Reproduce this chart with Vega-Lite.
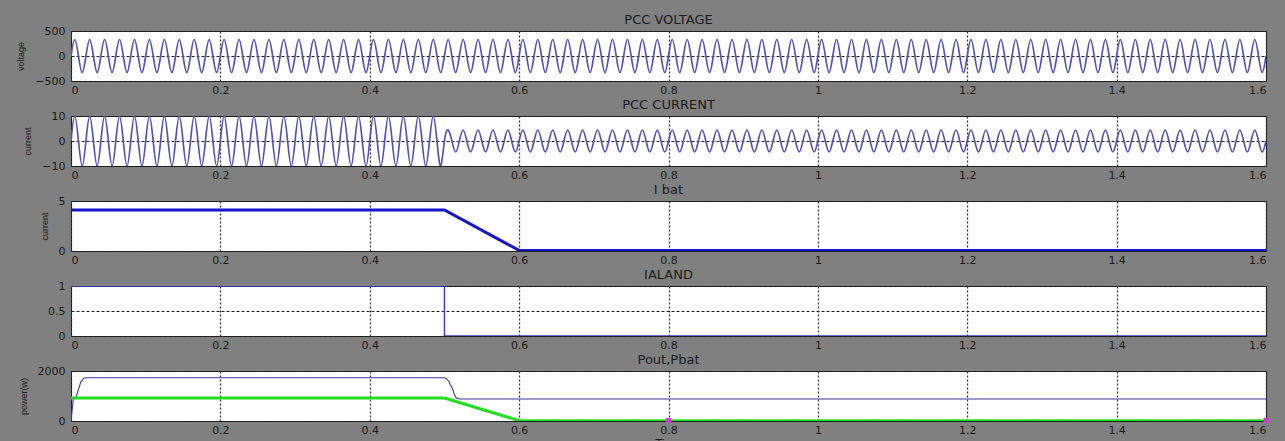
{
"$schema": "https://vega.github.io/schema/vega-lite/v6.json",
"background": "#808080",
"padding": {"left": 16, "top": 13, "right": 18, "bottom": 0},
"spacing": 35,
"bounds": "flush",
"datasets": {
"wave": [
{"t":0,"v":0,"i":0},{"t":0.005,"v":330,"i":10},{"t":0.01,"v":0,"i":0},{"t":0.015,"v":-330,"i":-10},
{"t":0.02,"v":0,"i":0},{"t":0.025,"v":330,"i":10},{"t":0.03,"v":0,"i":0},{"t":0.035,"v":-330,"i":-10},
{"t":0.04,"v":0,"i":0},{"t":0.045,"v":330,"i":10},{"t":0.05,"v":0,"i":0},{"t":0.055,"v":-330,"i":-10},
{"t":0.06,"v":0,"i":0},{"t":0.065,"v":330,"i":10},{"t":0.07,"v":0,"i":0},{"t":0.075,"v":-330,"i":-10},
{"t":0.08,"v":0,"i":0},{"t":0.085,"v":330,"i":10},{"t":0.09,"v":0,"i":0},{"t":0.095,"v":-330,"i":-10},
{"t":0.1,"v":0,"i":0},{"t":0.105,"v":330,"i":10},{"t":0.11,"v":0,"i":0},{"t":0.115,"v":-330,"i":-10},
{"t":0.12,"v":0,"i":0},{"t":0.125,"v":330,"i":10},{"t":0.13,"v":0,"i":0},{"t":0.135,"v":-330,"i":-10},
{"t":0.14,"v":0,"i":0},{"t":0.145,"v":330,"i":10},{"t":0.15,"v":0,"i":0},{"t":0.155,"v":-330,"i":-10},
{"t":0.16,"v":0,"i":0},{"t":0.165,"v":330,"i":10},{"t":0.17,"v":0,"i":0},{"t":0.175,"v":-330,"i":-10},
{"t":0.18,"v":0,"i":0},{"t":0.185,"v":330,"i":10},{"t":0.19,"v":0,"i":0},{"t":0.195,"v":-330,"i":-10},
{"t":0.2,"v":0,"i":0},{"t":0.205,"v":330,"i":10},{"t":0.21,"v":0,"i":0},{"t":0.215,"v":-330,"i":-10},
{"t":0.22,"v":0,"i":0},{"t":0.225,"v":330,"i":10},{"t":0.23,"v":0,"i":0},{"t":0.235,"v":-330,"i":-10},
{"t":0.24,"v":0,"i":0},{"t":0.245,"v":330,"i":10},{"t":0.25,"v":0,"i":0},{"t":0.255,"v":-330,"i":-10},
{"t":0.26,"v":0,"i":0},{"t":0.265,"v":330,"i":10},{"t":0.27,"v":0,"i":0},{"t":0.275,"v":-330,"i":-10},
{"t":0.28,"v":0,"i":0},{"t":0.285,"v":330,"i":10},{"t":0.29,"v":0,"i":0},{"t":0.295,"v":-330,"i":-10},
{"t":0.3,"v":0,"i":0},{"t":0.305,"v":330,"i":10},{"t":0.31,"v":0,"i":0},{"t":0.315,"v":-330,"i":-10},
{"t":0.32,"v":0,"i":0},{"t":0.325,"v":330,"i":10},{"t":0.33,"v":0,"i":0},{"t":0.335,"v":-330,"i":-10},
{"t":0.34,"v":0,"i":0},{"t":0.345,"v":330,"i":10},{"t":0.35,"v":0,"i":0},{"t":0.355,"v":-330,"i":-10},
{"t":0.36,"v":0,"i":0},{"t":0.365,"v":330,"i":10},{"t":0.37,"v":0,"i":0},{"t":0.375,"v":-330,"i":-10},
{"t":0.38,"v":0,"i":0},{"t":0.385,"v":330,"i":10},{"t":0.39,"v":0,"i":0},{"t":0.395,"v":-330,"i":-10},
{"t":0.4,"v":0,"i":0},{"t":0.405,"v":330,"i":10},{"t":0.41,"v":0,"i":0},{"t":0.415,"v":-330,"i":-10},
{"t":0.42,"v":0,"i":0},{"t":0.425,"v":330,"i":10},{"t":0.43,"v":0,"i":0},{"t":0.435,"v":-330,"i":-10},
{"t":0.44,"v":0,"i":0},{"t":0.445,"v":330,"i":10},{"t":0.45,"v":0,"i":0},{"t":0.455,"v":-330,"i":-10},
{"t":0.46,"v":0,"i":0},{"t":0.465,"v":330,"i":10},{"t":0.47,"v":0,"i":0},{"t":0.475,"v":-330,"i":-10},
{"t":0.48,"v":0,"i":0},{"t":0.485,"v":330,"i":10},{"t":0.49,"v":0,"i":0},{"t":0.495,"v":-330,"i":-10},
{"t":0.5,"v":0,"i":0},{"t":0.505,"v":330,"i":4.4},{"t":0.51,"v":0,"i":0},{"t":0.515,"v":-330,"i":-4.4},
{"t":0.52,"v":0,"i":0},{"t":0.525,"v":330,"i":4.4},{"t":0.53,"v":0,"i":0},{"t":0.535,"v":-330,"i":-4.4},
{"t":0.54,"v":0,"i":0},{"t":0.545,"v":330,"i":4.4},{"t":0.55,"v":0,"i":0},{"t":0.555,"v":-330,"i":-4.4},
{"t":0.56,"v":0,"i":0},{"t":0.565,"v":330,"i":4.4},{"t":0.57,"v":0,"i":0},{"t":0.575,"v":-330,"i":-4.4},
{"t":0.58,"v":0,"i":0},{"t":0.585,"v":330,"i":4.4},{"t":0.59,"v":0,"i":0},{"t":0.595,"v":-330,"i":-4.4},
{"t":0.6,"v":0,"i":0},{"t":0.605,"v":330,"i":4.4},{"t":0.61,"v":0,"i":0},{"t":0.615,"v":-330,"i":-4.4},
{"t":0.62,"v":0,"i":0},{"t":0.625,"v":330,"i":4.4},{"t":0.63,"v":0,"i":0},{"t":0.635,"v":-330,"i":-4.4},
{"t":0.64,"v":0,"i":0},{"t":0.645,"v":330,"i":4.4},{"t":0.65,"v":0,"i":0},{"t":0.655,"v":-330,"i":-4.4},
{"t":0.66,"v":0,"i":0},{"t":0.665,"v":330,"i":4.4},{"t":0.67,"v":0,"i":0},{"t":0.675,"v":-330,"i":-4.4},
{"t":0.68,"v":0,"i":0},{"t":0.685,"v":330,"i":4.4},{"t":0.69,"v":0,"i":0},{"t":0.695,"v":-330,"i":-4.4},
{"t":0.7,"v":0,"i":0},{"t":0.705,"v":330,"i":4.4},{"t":0.71,"v":0,"i":0},{"t":0.715,"v":-330,"i":-4.4},
{"t":0.72,"v":0,"i":0},{"t":0.725,"v":330,"i":4.4},{"t":0.73,"v":0,"i":0},{"t":0.735,"v":-330,"i":-4.4},
{"t":0.74,"v":0,"i":0},{"t":0.745,"v":330,"i":4.4},{"t":0.75,"v":0,"i":0},{"t":0.755,"v":-330,"i":-4.4},
{"t":0.76,"v":0,"i":0},{"t":0.765,"v":330,"i":4.4},{"t":0.77,"v":0,"i":0},{"t":0.775,"v":-330,"i":-4.4},
{"t":0.78,"v":0,"i":0},{"t":0.785,"v":330,"i":4.4},{"t":0.79,"v":0,"i":0},{"t":0.795,"v":-330,"i":-4.4},
{"t":0.8,"v":0,"i":0},{"t":0.805,"v":330,"i":4.4},{"t":0.81,"v":0,"i":0},{"t":0.815,"v":-330,"i":-4.4},
{"t":0.82,"v":0,"i":0},{"t":0.825,"v":330,"i":4.4},{"t":0.83,"v":0,"i":0},{"t":0.835,"v":-330,"i":-4.4},
{"t":0.84,"v":0,"i":0},{"t":0.845,"v":330,"i":4.4},{"t":0.85,"v":0,"i":0},{"t":0.855,"v":-330,"i":-4.4},
{"t":0.86,"v":0,"i":0},{"t":0.865,"v":330,"i":4.4},{"t":0.87,"v":0,"i":0},{"t":0.875,"v":-330,"i":-4.4},
{"t":0.88,"v":0,"i":0},{"t":0.885,"v":330,"i":4.4},{"t":0.89,"v":0,"i":0},{"t":0.895,"v":-330,"i":-4.4},
{"t":0.9,"v":0,"i":0},{"t":0.905,"v":330,"i":4.4},{"t":0.91,"v":0,"i":0},{"t":0.915,"v":-330,"i":-4.4},
{"t":0.92,"v":0,"i":0},{"t":0.925,"v":330,"i":4.4},{"t":0.93,"v":0,"i":0},{"t":0.935,"v":-330,"i":-4.4},
{"t":0.94,"v":0,"i":0},{"t":0.945,"v":330,"i":4.4},{"t":0.95,"v":0,"i":0},{"t":0.955,"v":-330,"i":-4.4},
{"t":0.96,"v":0,"i":0},{"t":0.965,"v":330,"i":4.4},{"t":0.97,"v":0,"i":0},{"t":0.975,"v":-330,"i":-4.4},
{"t":0.98,"v":0,"i":0},{"t":0.985,"v":330,"i":4.4},{"t":0.99,"v":0,"i":0},{"t":0.995,"v":-330,"i":-4.4},
{"t":1,"v":0,"i":0},{"t":1.005,"v":330,"i":4.4},{"t":1.01,"v":0,"i":0},{"t":1.015,"v":-330,"i":-4.4},
{"t":1.02,"v":0,"i":0},{"t":1.025,"v":330,"i":4.4},{"t":1.03,"v":0,"i":0},{"t":1.035,"v":-330,"i":-4.4},
{"t":1.04,"v":0,"i":0},{"t":1.045,"v":330,"i":4.4},{"t":1.05,"v":0,"i":0},{"t":1.055,"v":-330,"i":-4.4},
{"t":1.06,"v":0,"i":0},{"t":1.065,"v":330,"i":4.4},{"t":1.07,"v":0,"i":0},{"t":1.075,"v":-330,"i":-4.4},
{"t":1.08,"v":0,"i":0},{"t":1.085,"v":330,"i":4.4},{"t":1.09,"v":0,"i":0},{"t":1.095,"v":-330,"i":-4.4},
{"t":1.1,"v":0,"i":0},{"t":1.105,"v":330,"i":4.4},{"t":1.11,"v":0,"i":0},{"t":1.115,"v":-330,"i":-4.4},
{"t":1.12,"v":0,"i":0},{"t":1.125,"v":330,"i":4.4},{"t":1.13,"v":0,"i":0},{"t":1.135,"v":-330,"i":-4.4},
{"t":1.14,"v":0,"i":0},{"t":1.145,"v":330,"i":4.4},{"t":1.15,"v":0,"i":0},{"t":1.155,"v":-330,"i":-4.4},
{"t":1.16,"v":0,"i":0},{"t":1.165,"v":330,"i":4.4},{"t":1.17,"v":0,"i":0},{"t":1.175,"v":-330,"i":-4.4},
{"t":1.18,"v":0,"i":0},{"t":1.185,"v":330,"i":4.4},{"t":1.19,"v":0,"i":0},{"t":1.195,"v":-330,"i":-4.4},
{"t":1.2,"v":0,"i":0},{"t":1.205,"v":330,"i":4.4},{"t":1.21,"v":0,"i":0},{"t":1.215,"v":-330,"i":-4.4},
{"t":1.22,"v":0,"i":0},{"t":1.225,"v":330,"i":4.4},{"t":1.23,"v":0,"i":0},{"t":1.235,"v":-330,"i":-4.4},
{"t":1.24,"v":0,"i":0},{"t":1.245,"v":330,"i":4.4},{"t":1.25,"v":0,"i":0},{"t":1.255,"v":-330,"i":-4.4},
{"t":1.26,"v":0,"i":0},{"t":1.265,"v":330,"i":4.4},{"t":1.27,"v":0,"i":0},{"t":1.275,"v":-330,"i":-4.4},
{"t":1.28,"v":0,"i":0},{"t":1.285,"v":330,"i":4.4},{"t":1.29,"v":0,"i":0},{"t":1.295,"v":-330,"i":-4.4},
{"t":1.3,"v":0,"i":0},{"t":1.305,"v":330,"i":4.4},{"t":1.31,"v":0,"i":0},{"t":1.315,"v":-330,"i":-4.4},
{"t":1.32,"v":0,"i":0},{"t":1.325,"v":330,"i":4.4},{"t":1.33,"v":0,"i":0},{"t":1.335,"v":-330,"i":-4.4},
{"t":1.34,"v":0,"i":0},{"t":1.345,"v":330,"i":4.4},{"t":1.35,"v":0,"i":0},{"t":1.355,"v":-330,"i":-4.4},
{"t":1.36,"v":0,"i":0},{"t":1.365,"v":330,"i":4.4},{"t":1.37,"v":0,"i":0},{"t":1.375,"v":-330,"i":-4.4},
{"t":1.38,"v":0,"i":0},{"t":1.385,"v":330,"i":4.4},{"t":1.39,"v":0,"i":0},{"t":1.395,"v":-330,"i":-4.4},
{"t":1.4,"v":0,"i":0},{"t":1.405,"v":330,"i":4.4},{"t":1.41,"v":0,"i":0},{"t":1.415,"v":-330,"i":-4.4},
{"t":1.42,"v":0,"i":0},{"t":1.425,"v":330,"i":4.4},{"t":1.43,"v":0,"i":0},{"t":1.435,"v":-330,"i":-4.4},
{"t":1.44,"v":0,"i":0},{"t":1.445,"v":330,"i":4.4},{"t":1.45,"v":0,"i":0},{"t":1.455,"v":-330,"i":-4.4},
{"t":1.46,"v":0,"i":0},{"t":1.465,"v":330,"i":4.4},{"t":1.47,"v":0,"i":0},{"t":1.475,"v":-330,"i":-4.4},
{"t":1.48,"v":0,"i":0},{"t":1.485,"v":330,"i":4.4},{"t":1.49,"v":0,"i":0},{"t":1.495,"v":-330,"i":-4.4},
{"t":1.5,"v":0,"i":0},{"t":1.505,"v":330,"i":4.4},{"t":1.51,"v":0,"i":0},{"t":1.515,"v":-330,"i":-4.4},
{"t":1.52,"v":0,"i":0},{"t":1.525,"v":330,"i":4.4},{"t":1.53,"v":0,"i":0},{"t":1.535,"v":-330,"i":-4.4},
{"t":1.54,"v":0,"i":0},{"t":1.545,"v":330,"i":4.4},{"t":1.55,"v":0,"i":0},{"t":1.555,"v":-330,"i":-4.4},
{"t":1.56,"v":0,"i":0},{"t":1.565,"v":330,"i":4.4},{"t":1.57,"v":0,"i":0},{"t":1.575,"v":-330,"i":-4.4},
{"t":1.58,"v":0,"i":0},{"t":1.585,"v":330,"i":4.4},{"t":1.59,"v":0,"i":0},{"t":1.595,"v":-330,"i":-4.4},
{"t":1.6,"v":0,"i":0}
],
"ibat": [{"t":0,"y":4.1},{"t":0.5,"y":4.1},{"t":0.6,"y":0.06},{"t":1.6,"y":0.06}],
"ialand": [{"t":0,"y":1,"k":0},{"t":0.5,"y":1,"k":1},{"t":0.5,"y":0,"k":2},{"t":1.6,"y":0,"k":3}],
"pout": [{"t":0,"p":0},{"t":0.003,"p":850},{"t":0.007,"p":980},{"t":0.013,"p":1550},{"t":0.017,"p":1710},{"t":0.021,"p":1730},{"t":0.5,"p":1730},{"t":0.503,"p":1680},{"t":0.506,"p":1580},{"t":0.508,"p":1450},{"t":0.511,"p":1280},{"t":0.513,"p":1080},{"t":0.516,"p":920},{"t":0.52,"p":880},{"t":1.6,"p":880}],
"pbat": [{"t":0,"p":920},{"t":0.5,"p":920},{"t":0.6,"p":15},{"t":1.6,"p":15}],
"cursor": [{"t":0.8,"p":20},{"t":1.6,"p":20}]
},
"vconcat": [
{
"title": "PCC VOLTAGE",
"width": 1195, "height": 50,
"data": {"name": "wave"},
"mark": {"type": "line", "interpolate": "natural", "color": "#5454ae", "strokeWidth": 1.7, "clip": true},
"encoding": {
"x": {"field": "t", "type": "quantitative", "scale": {"domain": [0, 1.6], "nice": false}, "axis": {"values": [0,0.2,0.4,0.6,0.8,1,1.2,1.4,1.6], "format": "~f", "title": null}},
"y": {"field": "v", "type": "quantitative", "scale": {"domain": [-500, 500], "nice": false}, "axis": {"values": [-500,0,500], "format": "~f", "title": "voltage"}}
}
},
{
"title": "PCC CURRENT",
"width": 1195, "height": 50,
"data": {"name": "wave"},
"mark": {"type": "line", "interpolate": "natural", "color": "#5454ae", "strokeWidth": 1.7, "clip": true},
"encoding": {
"x": {"field": "t", "type": "quantitative", "scale": {"domain": [0, 1.6], "nice": false}, "axis": {"values": [0,0.2,0.4,0.6,0.8,1,1.2,1.4,1.6], "format": "~f", "title": null}},
"y": {"field": "i", "type": "quantitative", "scale": {"domain": [-10, 10], "nice": false}, "axis": {"values": [-10,0,10], "format": "~f", "title": "current"}}
}
},
{
"title": "I bat",
"width": 1195, "height": 50,
"data": {"name": "ibat"},
"mark": {"type": "line", "color": "#1515c8", "strokeWidth": 3, "clip": true},
"encoding": {
"x": {"field": "t", "type": "quantitative", "scale": {"domain": [0, 1.6], "nice": false}, "axis": {"values": [0,0.2,0.4,0.6,0.8,1,1.2,1.4,1.6], "format": "~f", "title": null}},
"y": {"field": "y", "type": "quantitative", "scale": {"domain": [0, 5], "nice": false}, "axis": {"values": [0,5], "format": "~f", "title": "current"}}
}
},
{
"title": "IALAND",
"width": 1195, "height": 50,
"data": {"name": "ialand"},
"mark": {"type": "line", "color": "#3c3cc8", "strokeWidth": 1.4, "clip": true},
"encoding": {
"x": {"field": "t", "type": "quantitative", "scale": {"domain": [0, 1.6], "nice": false}, "axis": {"values": [0,0.2,0.4,0.6,0.8,1,1.2,1.4,1.6], "format": "~f", "title": null}},
"y": {"field": "y", "type": "quantitative", "scale": {"domain": [0, 1], "nice": false}, "axis": {"values": [0,0.5,1], "format": "~f", "title": null}},
"order": {"field": "k", "type": "quantitative"}
}
},
{
"title": "Pout,Pbat",
"width": 1195, "height": 50,
"layer": [
{
"data": {"name": "pout"},
"mark": {"type": "line", "color": "#3a3aa0", "strokeWidth": 1.1, "clip": true},
"encoding": {
"x": {"field": "t", "type": "quantitative", "scale": {"domain": [0, 1.6], "nice": false}, "axis": {"values": [0,0.2,0.4,0.6,0.8,1,1.2,1.4,1.6], "format": "~f", "title": "Time"}},
"y": {"field": "p", "type": "quantitative", "scale": {"domain": [0, 2000], "nice": false}, "axis": {"values": [0,1000,2000], "format": "~f", "title": "power(w)"}}
}
},
{
"data": {"name": "pbat"},
"mark": {"type": "line", "color": "#22dd22", "strokeWidth": 3, "clip": true},
"encoding": {
"x": {"field": "t", "type": "quantitative"},
"y": {"field": "p", "type": "quantitative"}
}
},
{
"data": {"name": "cursor"},
"mark": {"type": "point", "shape": "square", "filled": true, "size": 25, "color": "#d040d0", "opacity": 1},
"encoding": {
"x": {"field": "t", "type": "quantitative"},
"y": {"field": "p", "type": "quantitative"}
}
}
]
}
],
"config": {
"view": {"stroke": "#1a1a1a", "strokeWidth": 1, "fill": "white"},
"title": {"font": "DejaVu Sans", "fontSize": 13, "fontWeight": "normal", "color": "#1a1a1a", "offset": -2, "anchor": "middle"},
"axis": {"grid": true, "domain": false, "ticks": false, "labelFont": "DejaVu Sans", "labelFontSize": 11, "labelColor": "#1a1a1a", "titleFont": "Liberation Sans", "titleFontSize": 9, "titleFontWeight": "normal", "titleColor": "#1a1a1a", "titlePadding": 9},
"axisX": {"gridColor": "#333333", "gridDash": [2, 2], "gridWidth": 1.3, "labelPadding": 3, "titlePadding": 2, "titleFontSize": 11, "titleFont": "DejaVu Sans"},
"axisY": {"gridColor": "#222222", "gridDash": [3, 2], "gridWidth": 1, "labelPadding": 6}
}
}
